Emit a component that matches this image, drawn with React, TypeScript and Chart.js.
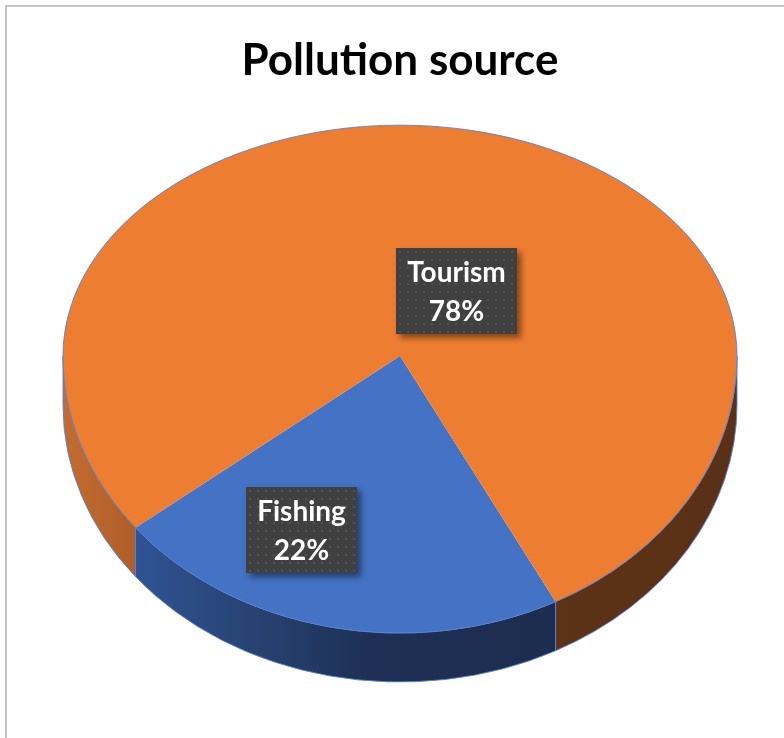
import React, { useEffect, useRef } from 'react';
import { Chart, registerables } from 'chart.js';

Chart.register(...registerables);

const TITLE = 'Pollution source';
const CATEGORIES = ['Fishing', 'Tourism'];
const VALUES = [22, 78];
const TOP_COLORS = ['#4472C4', '#ED7D31'];
const SIDE_STOPS: [number, string][][] = [
  [[0, '#3762ab'], [0.1, '#2f5495'], [0.28, '#284372'], [0.45, '#1e3055'], [1, '#1a2a4a']],
  [[0, '#c46c2f'], [0.1, '#b05f2a'], [0.3, '#7d4421'], [0.5, '#5f3418'], [1, '#5a3116']],
];
// label box centre offsets, in units of the pie radius, relative to the pie centre
const LABEL_OFFSETS: [number, number][] = [[-0.291, 0.516], [0.168, -0.194]];

const K_TOP = 0.685;
const K_BOT = 0.822;
const DEPTH = 49;
const EDGE = 'rgba(91,130,210,0.9)';

const pie3d = {
  id: 'pie3d',
  beforeDatasetsDraw(chart: any) {
    const arcs = chart.getDatasetMeta(0).data;
    if (!arcs.length) return;
    const cx = arcs[0].x, cy = arcs[0].y, R = arcs[0].outerRadius;
    const ctx = chart.ctx as CanvasRenderingContext2D;
    const TWO_PI = Math.PI * 2;
    // sides
    arcs.forEach((arc: any, i: number) => {
      const s = arc.startAngle, e = arc.endAngle;
      const grad = ctx.createLinearGradient(cx - R, 0, cx + R, 0);
      SIDE_STOPS[i].forEach(([o, c]) => grad.addColorStop(o, c));
      for (let k = -1; k <= 2; k++) {
        const lo = Math.max(s, k * TWO_PI);
        const hi = Math.min(e, k * TWO_PI + Math.PI);
        if (hi <= lo) continue;
        const a = lo - k * TWO_PI, b = hi - k * TWO_PI;
        ctx.save();
        ctx.beginPath();
        ctx.ellipse(cx, cy, R, R * K_BOT, 0, a, b, false);
        ctx.lineTo(cx + R * Math.cos(b), cy + R * K_BOT * Math.sin(b) + DEPTH);
        ctx.ellipse(cx, cy + DEPTH, R, R * K_BOT, 0, b, a, true);
        ctx.closePath();
        ctx.fillStyle = grad;
        ctx.fill();
        ctx.strokeStyle = EDGE;
        ctx.lineWidth = 1;
        ctx.stroke();
        ctx.restore();
      }
    });
    // top face, drawn in two halves (perspective: far half flatter)
    const halves = [
      { y0: 0, y1: cy + 0.5, k: K_TOP },
      { y0: cy - 0.5, y1: chart.height, k: K_BOT },
    ];
    halves.forEach((h) => {
      ctx.save();
      ctx.beginPath();
      ctx.rect(0, h.y0, chart.width, h.y1 - h.y0);
      ctx.clip();
      ctx.translate(cx, cy);
      ctx.scale(1, h.k);
      ctx.translate(-cx, -cy);
      arcs.forEach((a: any) => a.draw(ctx));
      ctx.restore();
    });
    // rim
    ctx.save();
    ctx.strokeStyle = EDGE;
    ctx.lineWidth = 1;
    ctx.beginPath();
    ctx.ellipse(cx, cy, R, R * K_TOP, 0, Math.PI, TWO_PI, false);
    ctx.stroke();
    ctx.beginPath();
    ctx.ellipse(cx, cy, R, R * K_BOT, 0, 0, Math.PI, false);
    ctx.stroke();
    ctx.restore();
    return false;
  },
  afterDraw(chart: any) {
    const arcs = chart.getDatasetMeta(0).data;
    if (!arcs.length) return;
    const cx = arcs[0].x, cy = arcs[0].y, R = arcs[0].outerRadius;
    const ctx = chart.ctx as CanvasRenderingContext2D;
    const total = VALUES.reduce((p, v) => p + v, 0);
    arcs.forEach((_a: any, i: number) => {
      const lines = [CATEGORIES[i], Math.round((VALUES[i] / total) * 100) + '%'];
      ctx.save();
      ctx.font = 'bold 28px Lato';
      const tw = Math.max(...lines.map((l) => ctx.measureText(l).width));
      const w = Math.round(tw + 22);
      const h = 86;
      const bx = Math.round(cx + LABEL_OFFSETS[i][0] * R - w / 2);
      const by = Math.round(cy + LABEL_OFFSETS[i][1] * R - h / 2);
      ctx.shadowColor = 'rgba(0,0,0,0.45)';
      ctx.shadowBlur = 6;
      ctx.shadowOffsetX = 4;
      ctx.shadowOffsetY = 4;
      ctx.fillStyle = '#404040';
      ctx.fillRect(bx, by, w, h);
      ctx.shadowColor = 'transparent';
      ctx.shadowBlur = 0;
      ctx.shadowOffsetX = 0;
      ctx.shadowOffsetY = 0;
      // dotted texture
      ctx.beginPath();
      ctx.rect(bx, by, w, h);
      ctx.clip();
      ctx.fillStyle = 'rgba(255,255,255,0.09)';
      for (let yy = by + 3; yy < by + h; yy += 8) {
        for (let xx = bx + 3; xx < bx + w; xx += 8) {
          ctx.fillRect(xx, yy, 2, 2);
        }
      }
      ctx.fillStyle = '#ffffff';
      ctx.textAlign = 'center';
      ctx.textBaseline = 'alphabetic';
      ctx.fillText(lines[0], bx + w / 2, by + 34);
      ctx.fillText(lines[1], bx + w / 2, by + 73);
      ctx.restore();
    });
  },
};

export default function App() {
  const ref = useRef<HTMLCanvasElement | null>(null);
  useEffect(() => {
    if (!ref.current) return;
    const chart = new Chart(ref.current, {
      type: 'pie',
      data: {
        labels: CATEGORIES,
        datasets: [
          {
            data: VALUES,
            backgroundColor: TOP_COLORS,
            borderWidth: 0,
            radius: 337,
          } as any,
        ],
      },
      options: {
        animation: false,
        responsive: true,
        maintainAspectRatio: false,
        events: [],
        rotation: 152.5,
        layout: { padding: { top: 0, left: 16, right: 0, bottom: 112.8 } },
        plugins: {
          legend: { display: false },
          tooltip: { enabled: false },
          title: {
            display: true,
            text: TITLE,
            color: '#000000',
            font: { family: 'Lato', size: 44, weight: 'bold' },
            padding: { top: 34, bottom: 0 },
          },
        },
      } as any,
      plugins: [pie3d as any],
    });
    return () => chart.destroy();
  }, []);
  return (
    <div style={{ position: 'absolute', left: 0, top: 0, width: 784, height: 738, overflow: 'hidden', background: '#fff' }}>
      <div
        style={{
          position: 'absolute',
          left: 5,
          top: 5,
          width: 800,
          height: 800,
          borderLeft: '2px solid #c6c6c6',
          borderTop: '2px solid #c6c6c6',
        }}
      />
      <canvas ref={ref} style={{ position: 'absolute', left: 0, top: 0, width: 784, height: 738 }} />
    </div>
  );
}
